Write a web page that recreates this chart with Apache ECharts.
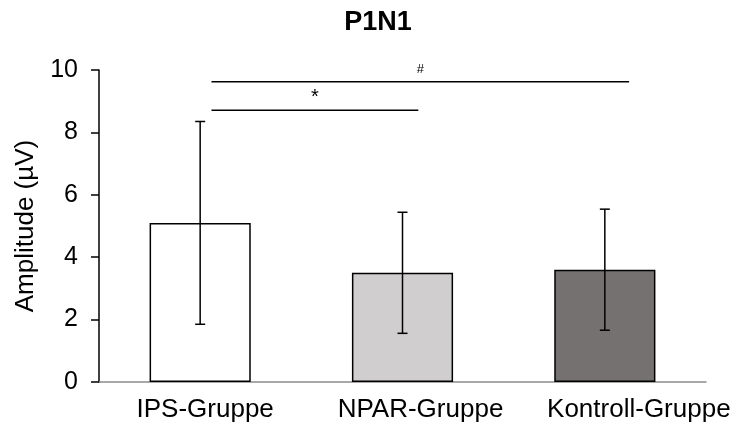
<!DOCTYPE html>
<html><head><meta charset="utf-8">
<script src="https://cdn.jsdelivr.net/npm/echarts@6/dist/echarts.min.js"></script>
<style>html,body{margin:0;padding:0;background:#fff}#c{width:736px;height:431px}</style>
</head><body><div id="c"></div>
<script>
const categories = ['IPS-Gruppe', 'NPAR-Gruppe', 'Kontroll-Gruppe'];
const means = [5.10, 3.50, 3.60];
const errors = [3.25, 1.94, 1.94];
const barColors = ['#ffffff', '#d0cece', '#767171'];
const yTicks = [0, 2, 4, 6, 8, 10];
// significance brackets: [xStart, xEnd, y, label] in category units
const sigLines = [
  [0.056, 1.078, 8.71, '*'],
  [0.056, 2.12, 9.62, '#']
];

const chart = echarts.init(document.getElementById('c'));
const font = 'Liberation Sans, Arial, sans-serif';
const labelStyle = (pad) => ({ fontFamily: font, fontSize: 26, color: '#000', padding: [0, 0, 0, pad] });
chart.setOption({
  animation: false,
  title: { text: 'P1N1', left: 373, top: 4, textAlign: 'center',
    textStyle: { fontFamily: font, fontSize: 27, fontWeight: 'bold', color: '#000' } },
  grid: { left: 99, right: 30, top: 70, bottom: 49 },
  xAxis: [{
    type: 'category', data: categories,
    axisLine: { lineStyle: { color: '#8c8c8c', width: 1.5 } },
    axisTick: { show: false },
    axisLabel: { interval: 0, margin: 15, color: '#000',
      formatter: (v, i) => '{l' + i + '|' + v + '}',
      rich: { l0: labelStyle(10), l1: labelStyle(36), l2: labelStyle(68) } }
  }, {
    type: 'value', min: -0.5, max: 2.5, show: false
  }],
  yAxis: {
    type: 'value', min: 0, max: 10, interval: 2,
    name: 'Amplitude (µV)', nameLocation: 'middle', nameGap: 56,
    nameTextStyle: { fontFamily: font, fontSize: 26, color: '#000' },
    axisLine: { show: true, onZero: false, lineStyle: { color: '#000', width: 1.5 } },
    axisTick: { show: true, length: 8, lineStyle: { color: '#000', width: 1.5 } },
    axisLabel: { fontFamily: font, fontSize: 25, color: '#000', margin: 21,
      formatter: v => yTicks.includes(v) ? String(v) : '' },
    splitLine: { show: false }
  },
  series: [{
    type: 'bar', barWidth: '50%', xAxisIndex: 0,
    data: means.map((m, i) => ({ value: m, itemStyle: { color: barColors[i] } })),
    itemStyle: { borderColor: '#000', borderWidth: 1.5 }
  }, {
    type: 'custom', xAxisIndex: 0, z: 10,
    data: means.map((m, i) => [i, m - errors[i], m + errors[i]]),
    renderItem: (params, api) => {
      const lo = api.coord([api.value(0), api.value(1)]);
      const hi = api.coord([api.value(0), api.value(2)]);
      const w = 5;
      const st = { stroke: '#000', lineWidth: 1.5 };
      return { type: 'group', children: [
        { type: 'line', shape: { x1: lo[0], y1: lo[1], x2: hi[0], y2: hi[1] }, style: st },
        { type: 'line', shape: { x1: lo[0] - w, y1: lo[1], x2: lo[0] + w, y2: lo[1] }, style: st },
        { type: 'line', shape: { x1: hi[0] - w, y1: hi[1], x2: hi[0] + w, y2: hi[1] }, style: st }
      ]};
    }
  }, {
    type: 'custom', xAxisIndex: 1, z: 10,
    data: sigLines.map(s => [s[0], s[1], s[2], s[3]]),
    renderItem: (params, api) => {
      const a = api.coord([api.value(0), api.value(2)]);
      const b = api.coord([api.value(1), api.value(2)]);
      const s = sigLines[params.dataIndex];
      const isStar = s[3] === '*';
      return { type: 'group', children: [
        { type: 'line', shape: { x1: a[0], y1: a[1], x2: b[0], y2: b[1] }, style: { stroke: '#000', lineWidth: 1.5 } },
        { type: 'text', style: { text: s[3], x: (a[0] + b[0]) / 2, y: a[1] - (isStar ? 3 : 6),
          textAlign: 'center', textVerticalAlign: 'bottom',
          font: (isStar ? '20px ' : '13px ') + font, fill: '#000' } }
      ]};
    }
  }]
});
</script></body></html>
